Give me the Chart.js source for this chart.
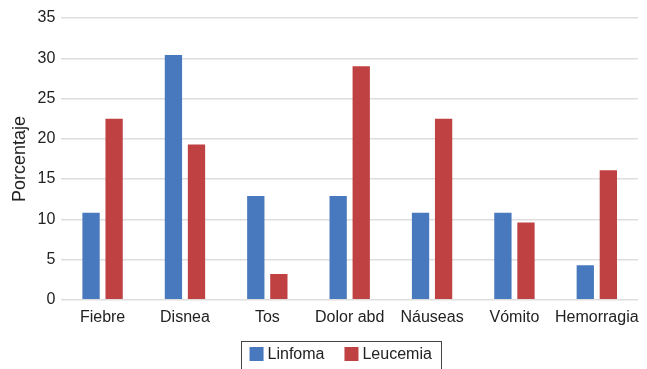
<!DOCTYPE html>
<html>
<head>
<meta charset="utf-8">
<script src="https://cdn.jsdelivr.net/npm/chart.js@4/dist/chart.umd.min.js"></script>
<style>
  html, body { margin: 0; padding: 0; background: #fff; }
  #wrap { width: 647px; height: 369px; position: relative; }
</style>
</head>
<body>
<div id="wrap"><canvas id="c"></canvas></div>
<script>
// Síntomas al diagnóstico (% de pacientes)
const categories = ["Fiebre", "Disnea", "Tos", "Dolor abd", "Náuseas", "Vómito", "Hemorragia"];
const linfoma = [10.8, 30.4, 12.9, 12.9, 10.8, 10.8, 4.3];
const leucemia = [22.5, 19.3, 3.2, 29.0, 22.5, 9.6, 16.1];
const yTicks = [0, 5, 10, 15, 20, 25, 30, 35];

const FONT = "'Liberation Sans', Arial, Helvetica, sans-serif";

// Boxed legend below the x-axis labels
const boxedLegend = {
  id: 'boxedLegend',
  afterDraw(chart) {
    const ctx = chart.ctx;
    const area = chart.chartArea;
    const items = chart.data.datasets.map(d => ({ label: d.label, color: d.backgroundColor }));
    ctx.save();
    ctx.font = "16px " + FONT;
    const box = 14, gapBoxText = 4, gapItems = 20, padX = 9;
    let total = 0;
    items.forEach((it, i) => {
      total += box + gapBoxText + ctx.measureText(it.label).width;
      if (i < items.length - 1) total += gapItems;
    });
    const cx = (area.left + area.right) / 2 - 9;
    const left = cx - total / 2 - padX;
    const width = total + padX * 2;
    const top = 341;
    ctx.strokeStyle = '#444';
    ctx.lineWidth = 1;
    ctx.strokeRect(Math.round(left) + 0.5, top + 0.5, Math.round(width), 40);
    let x = cx - total / 2;
    const yMid = 354;
    items.forEach(it => {
      ctx.fillStyle = it.color;
      ctx.fillRect(x, yMid - box / 2, box, box);
      x += box + gapBoxText;
      ctx.fillStyle = '#222';
      ctx.textBaseline = 'middle';
      ctx.textAlign = 'left';
      ctx.fillText(it.label, x, yMid + 1);
      x += ctx.measureText(it.label).width + gapItems;
    });
    ctx.restore();
  }
};

new Chart(document.getElementById('c'), {
  type: 'bar',
  data: {
    labels: categories,
    datasets: [
      { label: 'Linfoma', data: linfoma, backgroundColor: '#4878be', borderWidth: 0 },
      { label: 'Leucemia', data: leucemia, backgroundColor: '#bf4142', borderWidth: 0 }
    ]
  },
  options: {
    responsive: true,
    maintainAspectRatio: false,
    animation: false,
    devicePixelRatio: 1,
    layout: { padding: { top: 18, right: 9, left: 4, bottom: 42 } },
    plugins: {
      legend: { display: false },
      tooltip: { enabled: false }
    },
    datasets: {
      bar: { categoryPercentage: 0.56, barPercentage: 0.75 }
    },
    scales: {
      x: {
        grid: { display: false },
        border: { display: false },
        ticks: { color: '#222', font: { family: FONT, size: 16 }, padding: 0, maxRotation: 0, autoSkip: false }
      },
      y: {
        min: 0,
        max: 35,
        afterBuildTicks(axis) { axis.ticks = yTicks.map(v => ({ value: v })); },
        grid: { color: '#dedede', lineWidth: 1.5, drawTicks: false },
        border: { display: false },
        ticks: { color: '#222', font: { family: FONT, size: 16 }, padding: 6 },
        title: { display: true, text: 'Porcentaje', color: '#222', font: { family: FONT, size: 18 }, padding: { top: 5, bottom: 1 } }
      }
    }
  },
  plugins: [boxedLegend]
});
</script>
</body>
</html>
